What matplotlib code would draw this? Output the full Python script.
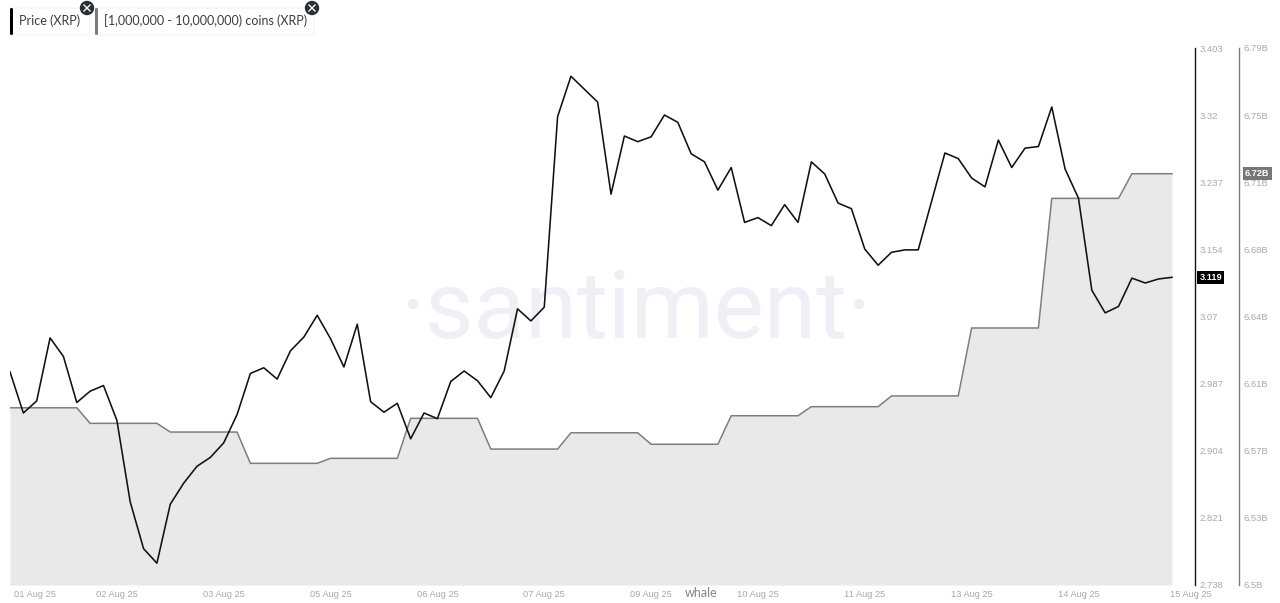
"""XRP price vs. coins held by the 1M-10M whale group (Santiment style)"""
from matplotlib import pyplot as plt
from matplotlib.patches import Circle, FancyBboxPatch

# 4-hourly price, one value per point
price = [
    3.002, 2.951, 2.966, 3.044, 3.021, 2.964, 2.978, 2.985, 2.942, 2.841, 2.783, 2.765,
    2.838, 2.864, 2.885, 2.896, 2.914, 2.949, 3.000, 3.007, 2.993, 3.028, 3.045, 3.072,
    3.043, 3.008, 3.061, 2.965, 2.952, 2.963, 2.919, 2.951, 2.944, 2.990, 3.003, 2.991,
    2.970, 3.003, 3.080, 3.065, 3.082, 3.318, 3.368, 3.352, 3.336, 3.222, 3.294, 3.287,
    3.293, 3.320, 3.311, 3.272, 3.262, 3.227, 3.255, 3.187, 3.193, 3.183, 3.209, 3.187,
    3.262, 3.247, 3.211, 3.204, 3.154, 3.134, 3.150, 3.153, 3.153, 3.213, 3.273, 3.266,
    3.242, 3.231, 3.289, 3.255, 3.279, 3.281, 3.330, 3.253, 3.217, 3.103, 3.075, 3.083,
    3.118, 3.112, 3.117, 3.119,
]

# coins held, in billions - only changes once a day
coins = [
    6.5957, 6.5957, 6.5957, 6.5957, 6.5957, 6.5957,
    6.5873, 6.5873, 6.5873, 6.5873, 6.5873, 6.5873,
    6.5826, 6.5826, 6.5826, 6.5826, 6.5826, 6.5826,
    6.5657, 6.5657, 6.5657, 6.5657, 6.5657, 6.5657,
    6.5684, 6.5684, 6.5684, 6.5684, 6.5684, 6.5684,
    6.5900, 6.5900, 6.5900, 6.5900, 6.5900, 6.5900,
    6.5734, 6.5734, 6.5734, 6.5734, 6.5734, 6.5734,
    6.5822, 6.5822, 6.5822, 6.5822, 6.5822, 6.5822,
    6.5760, 6.5760, 6.5760, 6.5760, 6.5760, 6.5760,
    6.5914, 6.5914, 6.5914, 6.5914, 6.5914, 6.5914,
    6.5963, 6.5963, 6.5963, 6.5963, 6.5963, 6.5963,
    6.6021, 6.6021, 6.6021, 6.6021, 6.6021, 6.6021,
    6.6388, 6.6388, 6.6388, 6.6388, 6.6388, 6.6388,
    6.7088, 6.7088, 6.7088, 6.7088, 6.7088, 6.7088,
    6.7221, 6.7221, 6.7221, 6.7221,
]

xs = list(range(len(price)))

date_ticks = [8, 16, 24, 32, 40, 48, 56, 64, 72, 80]
date_labels = ["02 Aug 25", "03 Aug 25", "05 Aug 25", "06 Aug 25", "07 Aug 25",
               "09 Aug 25", "10 Aug 25", "11 Aug 25", "13 Aug 25", "14 Aug 25"]

price_ticks = [2.738, 2.821, 2.904, 2.987, 3.07, 3.154, 3.237, 3.32, 3.403]
# labels are rounded, the ticks themselves are evenly spaced
coin_ticks = [6.5, 6.53625, 6.5725, 6.60875, 6.645, 6.68125, 6.7175, 6.75375, 6.79]
coin_tick_labels = ["6.5B", "6.53B", "6.57B", "6.61B", "6.64B", "6.68B", "6.71B", "6.75B", "6.79B"]

W, H = 1280, 603
TICK_COLOR = "#a3a9b5"

plt.rcParams["font.family"] = ["Liberation Sans", "DejaVu Sans"]

fig = plt.figure(figsize=(W / 100, H / 100), dpi=100)

# plot area: left edge x=10, black axis at x=1195, y from 48 to 585
ax = fig.add_axes([10 / W, (H - 585) / H, (1195 - 10) / W, 537 / H])
ax2 = ax.twinx()
ax.set_zorder(ax2.get_zorder() + 1)
ax.patch.set_visible(False)
ax2.patch.set_visible(False)

# one point is 13.356 px wide, so the x range runs a bit past the last point
xmax = (1195 - 10) / 13.356

ax2.fill_between(xs, coins, 6.5, color="#e9e9e9", linewidth=0)
ax2.plot(xs, coins, color="#7d7d7d", linewidth=1.1)
ax.plot(xs, price, color="#111111", linewidth=1.15)

ax.set_xlim(0, xmax)
ax.set_ylim(2.738, 3.403)
ax2.set_ylim(6.5, 6.79)

for a in (ax, ax2):
    for side in ("top", "left", "bottom"):
        a.spines[side].set_visible(False)

ax.spines["right"].set_color("#111111")
ax.spines["right"].set_linewidth(1.0)
ax2.spines["right"].set_position(("outward", 44 * 0.72))
ax2.spines["right"].set_color("#7d7d7d")
ax2.spines["right"].set_linewidth(1.0)

ax.set_yticks(price_ticks)
ax.set_yticklabels([str(t) for t in price_ticks])
ax2.set_yticks(coin_ticks)
ax2.set_yticklabels(coin_tick_labels)
ax.yaxis.tick_right()
ax.tick_params(axis="y", length=0, pad=3, labelsize=6.8, labelcolor=TICK_COLOR)
ax2.tick_params(axis="y", length=0, pad=3, labelsize=6.8, labelcolor=TICK_COLOR)

ax.set_xticks(date_ticks)
ax.set_xticklabels(date_labels)
ax.tick_params(axis="x", length=0, pad=3.5, labelsize=6.7, labelcolor=TICK_COLOR)

# first and last date do not sit centred under their points
ax.annotate("01 Aug 25", (xs[0], 0), xycoords=ax.get_xaxis_transform(), xytext=(3, -3.5),
            textcoords="offset points", ha="left", va="top", fontsize=6.7, color=TICK_COLOR,
            annotation_clip=False)
ax.annotate("15 Aug 25", (xs[-1], 0), xycoords=ax.get_xaxis_transform(), xytext=(-1.5, -3.5),
            textcoords="offset points", ha="left", va="top", fontsize=6.7, color=TICK_COLOR,
            annotation_clip=False)

# last value badges
ax.annotate(f"{price[-1]:.3f}", (1, price[-1]), xycoords=ax.get_yaxis_transform(), xytext=(3.2, 0),
            textcoords="offset points", ha="left", va="center", fontsize=6.6, color="white",
            fontweight="bold", annotation_clip=False,
            bbox=dict(boxstyle="square,pad=0.22", fc="#000000", ec="none"))
ax2.annotate(f"{coins[-1]:.2f}B", (1, coins[-1]), xycoords=ax2.get_yaxis_transform(),
             xytext=(36, 0), textcoords="offset points", ha="left", va="center", fontsize=6.6,
             color="white", fontweight="bold", annotation_clip=False, zorder=10,
             bbox=dict(boxstyle="square,pad=0.22", fc="#777777", ec="none"))

# watermark behind everything
fig.text(636 / W, 1 - 338 / H, "·santiment·", ha="center", va="baseline", fontsize=68,
         color="#eff0f6", family="Roboto", zorder=-1)
fig.text(701 / W, 1 - 593 / H, "whale", ha="center", va="center", fontsize=9,
         color="#7f848e", family="Lato", zorder=5)

# legend chips on a pixel-sized overlay
top = fig.add_axes([0, 0, 1, 1], zorder=20)
top.set_xlim(0, W)
top.set_ylim(H, 0)
top.axis("off")


def chip(x0, x1, bar_color, label, close_x):
    top.add_patch(FancyBboxPatch((x0, 8), x1 - x0, 27, boxstyle="round,pad=0,rounding_size=2",
                                 fc="white", ec="#f2f2f2", linewidth=0.7))
    top.add_patch(FancyBboxPatch((x0, 8), 3, 27, boxstyle="round,pad=0,rounding_size=1.4",
                                 fc=bar_color, ec="none"))
    top.text(x0 + 9, 21, label, ha="left", va="center", fontsize=9, color="#3a3d42", family="Lato")
    top.add_patch(Circle((close_x, 8), 7.2, fc="#2a2e35", ec="none"))
    top.plot([close_x - 3, close_x + 3], [5, 11], color="white", linewidth=1.0)
    top.plot([close_x - 3, close_x + 3], [11, 5], color="white", linewidth=1.0)


chip(10, 90, "#000000", "Price (XRP)", 87)
chip(95, 314, "#7d7d7d", "[1,000,000 - 10,000,000) coins (XRP)", 312)

plt.savefig("out.png", dpi=100)
